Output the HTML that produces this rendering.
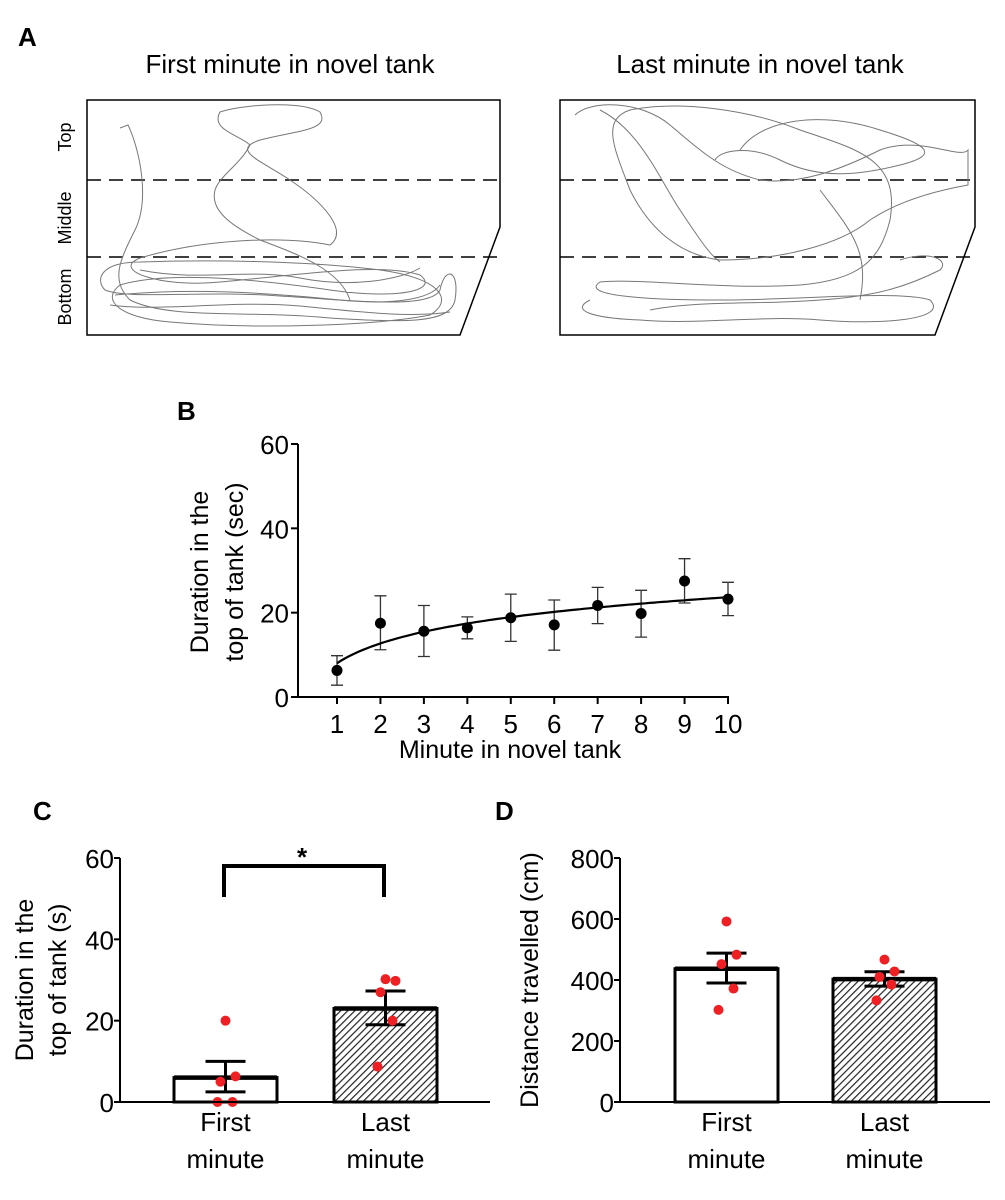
<!DOCTYPE html>
<html><head><meta charset="utf-8">
<style>
body{margin:0;background:#fff;}
svg{display:block;font-family:"Liberation Sans","DejaVu Sans",sans-serif;}
</style></head>
<body>
<svg id="fig" width="1005" height="1200" viewBox="0 0 1005 1200">
<defs>
<pattern id="hatch" patternUnits="userSpaceOnUse" width="5" height="5" patternTransform="rotate(45)">
<rect width="5" height="5" fill="#fff"/><line x1="0" y1="0" x2="0" y2="5" stroke="#222" stroke-width="2.4"/>
</pattern>
</defs>
<!-- Panel A -->
<g>
<text x="18" y="46" font-size="26" font-weight="bold">A</text>
<text x="290" y="73" font-size="26" text-anchor="middle">First minute in novel tank</text>
<text x="760" y="73" font-size="26" text-anchor="middle">Last minute in novel tank</text>
<text transform="translate(71,137) rotate(-90)" font-size="18" text-anchor="middle">Top</text>
<text transform="translate(71,218) rotate(-90)" font-size="18" text-anchor="middle">Middle</text>
<text transform="translate(71,297) rotate(-90)" font-size="18" text-anchor="middle">Bottom</text>
<path d="M87,100 L500,100 L500,227 L460,335 L87,335 Z" fill="none" stroke="#000" stroke-width="1.5"/>
<path d="M560,100 L975,100 L975,227 L935,335 L560,335 Z" fill="none" stroke="#000" stroke-width="1.5"/>
<g stroke="#000" stroke-width="1.5" stroke-dasharray="14,8">
<line x1="87" y1="180" x2="500" y2="180"/><line x1="87" y1="257" x2="500" y2="257"/>
<line x1="560" y1="180" x2="975" y2="180"/><line x1="560" y1="257" x2="975" y2="257"/>
</g>
<g fill="none" stroke="#777" stroke-width="1">
<path d="M120,128 L128,125 C140,150 150,200 135,230 C120,260 110,280 130,300 C170,320 250,310 330,318 C400,322 450,325 455,300 C460,270 445,265 440,290 C430,310 350,300 280,296 C200,290 130,300 105,290 C95,280 100,262 140,262 C200,260 300,260 380,270 C440,278 455,300 430,315 C380,325 260,330 170,322 C120,318 100,300 120,285 C170,270 260,280 330,290 C400,300 440,290 420,275 C380,262 300,275 220,282 C160,288 110,270 140,258 C200,240 280,235 330,245 C350,230 320,200 290,180 C260,160 230,150 260,140 C300,130 330,130 320,112 C300,100 240,105 220,112 C210,130 240,135 250,145 C240,165 220,175 215,190 C210,210 230,225 260,240 C300,255 340,270 350,300"/>
<path d="M110,305 C160,312 230,300 300,306 C360,312 410,318 450,312 M115,295 C190,288 260,292 340,300 C390,305 430,300 440,285 M140,270 C200,282 250,268 300,278 C350,288 400,280 420,268"/>
</g>
<g fill="none" stroke="#777" stroke-width="1">
<path d="M575,115 C590,100 640,100 670,125 C700,150 720,170 760,180 C800,185 840,170 880,150 C920,135 960,160 968,150 L968,185 C940,190 900,200 870,220 C840,245 780,260 720,260 C680,255 650,230 630,190 C615,150 600,120 630,110 C680,100 750,110 800,130 C860,150 900,160 890,220 C880,260 860,280 800,285 C720,290 640,278 600,282 C580,295 640,300 720,300 C800,300 900,290 930,300 C950,320 880,325 820,320 C760,315 700,325 640,320 C590,318 570,310 590,300"/>
<path d="M600,110 C640,130 660,180 680,210 C700,240 710,255 720,262 M740,150 C760,120 820,110 880,130 C930,145 940,155 900,165 C860,175 820,180 780,160 C750,145 720,150 715,160 M820,190 C850,230 870,250 860,300 M650,310 C700,300 760,305 820,300 C880,296 910,285 940,270 C950,260 930,250 900,260"/>
</g>
</g>
<!-- Panel B -->
<g id="panelB">
<text x="177" y="420" font-size="26" font-weight="bold">B</text>
<text transform="translate(208,572) rotate(-90)" font-size="25" text-anchor="middle">Duration in the</text>
<text transform="translate(243,572) rotate(-90)" font-size="25" text-anchor="middle">top of tank (sec)</text>
<text x="510" y="758" font-size="25" text-anchor="middle">Minute in novel tank</text>
</g>
<!-- Panel C -->
<g id="panelC">
<text x="33" y="820" font-size="26" font-weight="bold">C</text>
<text transform="translate(33,980) rotate(-90)" font-size="25" text-anchor="middle">Duration in the</text>
<text transform="translate(66,980) rotate(-90)" font-size="25" text-anchor="middle">top of tank (s)</text>
</g>
<!-- Panel D -->
<g id="panelD">
<text x="495" y="820" font-size="26" font-weight="bold">D</text>
<text transform="translate(538,980) rotate(-90)" font-size="25" text-anchor="middle">Distance travelled (cm)</text>
</g>
</svg>
<script>
// Panel B data
const bMinutes=[1,2,3,4,5,6,7,8,9,10];
const bMeans=[6.3,17.5,15.6,16.4,18.8,17.1,21.7,19.8,27.5,23.2];
const bErrLow=[2.8,11.2,9.6,13.8,13.2,11.1,17.4,14.2,22.3,19.3];
const bErrHigh=[9.8,24.0,21.7,19.0,24.4,23.0,26.0,25.3,32.8,27.2];
const bYTicks=[0,20,40,60];
const bFitA=8.0, bFitB=6.8;
// Panel C data
const cCats=["First|minute","Last|minute"];
const cMeans=[6,23];
const cErrLow=[2.5,19];
const cErrHigh=[10,27.3];
const cPoints=[[20,6.3,5,0,0],[30.2,29.8,27,20,8.7]];
const cYTicks=[0,20,40,60];
// Panel D data
const dCats=["First|minute","Last|minute"];
const dMeans=[437,403];
const dErrLow=[390,380];
const dErrHigh=[488,427];
const dPoints=[[592,483,452,372,302],[467,428,410,385,333]];
const dYTicks=[0,200,400,600,800];

const NS="http://www.w3.org/2000/svg";
function mk(parent,tag,attrs,txt){const e=document.createElementNS(NS,tag);for(const k in attrs)e.setAttribute(k,attrs[k]);if(txt!==undefined)e.textContent=txt;parent.appendChild(e);return e;}

// ---- Panel B
(function(){
const g=document.getElementById('panelB');
const x=v=>337+(v-1)*(728-337)/9;
const y=v=>697-v*(697-444)/60;
let e=mk(g,'line',{x1:298,y1:444,x2:298,y2:697,stroke:'#000','stroke-width':2});

e=mk(g,'line',{x1:298,y1:697,x2:729,y2:697,stroke:'#000','stroke-width':2});

bYTicks.forEach(t=>{
 mk(g,'line',{x1:291,y1:y(t),x2:298,y2:y(t),stroke:'#000','stroke-width':2});
 e=mk(g,'text',{x:289,y:y(t)+10,'font-size':26,'text-anchor':'end'},String(t));
 
});
bMinutes.forEach((m,i)=>{
 mk(g,'line',{x1:x(m),y1:697,x2:x(m),y2:704,stroke:'#000','stroke-width':2});
 e=mk(g,'text',{x:x(m),y:733,'font-size':26,'text-anchor':'middle'},String(m));
 
 const eb=mk(g,'path',{d:`M${x(m)},${y(bErrLow[i])}V${y(bErrHigh[i])}M${x(m)-6},${y(bErrLow[i])}h12M${x(m)-6},${y(bErrHigh[i])}h12`,stroke:'#333','stroke-width':1.3,fill:'none'});
 
});
let d='';
for(let v=1;v<=10.001;v+=0.1){d+=(d?'L':'M')+x(v).toFixed(1)+','+y(bFitA+bFitB*Math.log(v)).toFixed(1);}
e=mk(g,'path',{d:d,stroke:'#000','stroke-width':2.2,fill:'none'});

bMinutes.forEach((m,i)=>{
 const c=mk(g,'circle',{cx:x(m),cy:y(bMeans[i]),r:5.5,fill:'#000'});
 
});
})();

function barPanel(id,x0,x1,ymax,ticks,cats,means,lo,hi,pts,barX,letter){
const g=document.getElementById(id);
const y=v=>1102-v*(1102-858)/ymax;
let e=mk(g,'line',{x1:x0,y1:858,x2:x0,y2:1102,stroke:'#000','stroke-width':2});

ticks.forEach(t=>{
 mk(g,'line',{x1:x0-6,y1:y(t),x2:x0,y2:y(t),stroke:'#000','stroke-width':2});
 e=mk(g,'text',{x:x0-6,y:y(t)+10,'font-size':26,'text-anchor':'end'},String(t));
 
});
cats.forEach((c,i)=>{
 const bx=barX[i],bw=103,cx=bx+bw/2;
 e=mk(g,'rect',{x:bx,y:y(means[i]),width:bw,height:1102-y(means[i]),fill:i?'url(#hatch)':'#fff',stroke:'#000','stroke-width':3});
 
 mk(g,'line',{x1:bx,y1:y(means[i]),x2:bx+bw,y2:y(means[i]),stroke:'#000','stroke-width':4.5});
 e=mk(g,'path',{d:`M${cx},${y(lo[i])}V${y(hi[i])}M${cx-20},${y(lo[i])}h40M${cx-20},${y(hi[i])}h40`,stroke:'#000','stroke-width':3,fill:'none'});
 
 pts[i].forEach((p,j)=>{
  const dot=mk(g,'circle',{cx:cx+(j%2?10:-5)*(j>0?1:0)+(j>2?-3:0),cy:y(p),r:5,fill:'#ee2024'});
  
 });
 const [l1,l2]=c.split('|');
 e=mk(g,'text',{x:cx,y:1131,'font-size':26,'text-anchor':'middle'},l1);
 
 e=mk(g,'text',{x:cx,y:1168,'font-size':26,'text-anchor':'middle'},l2);
 
});
e=mk(g,'line',{x1:x0,y1:1102,x2:x1,y2:1102,stroke:'#000','stroke-width':2});

}
barPanel('panelC',120,490,60,cYTicks,cCats,cMeans,cErrLow,cErrHigh,cPoints,[174,334],'c');
barPanel('panelD',620,990,800,dYTicks,dCats,dMeans,dErrLow,dErrHigh,dPoints,[675,833],'d');
(function(){
const g=document.getElementById('panelC');
let e=mk(g,'path',{d:'M224,897V866H384V897',stroke:'#000','stroke-width':4,fill:'none'});

e=mk(g,'text',{x:302,y:866,'font-size':26,'font-weight':'bold','text-anchor':'middle'},'*');

})();
</script>
</body></html>
